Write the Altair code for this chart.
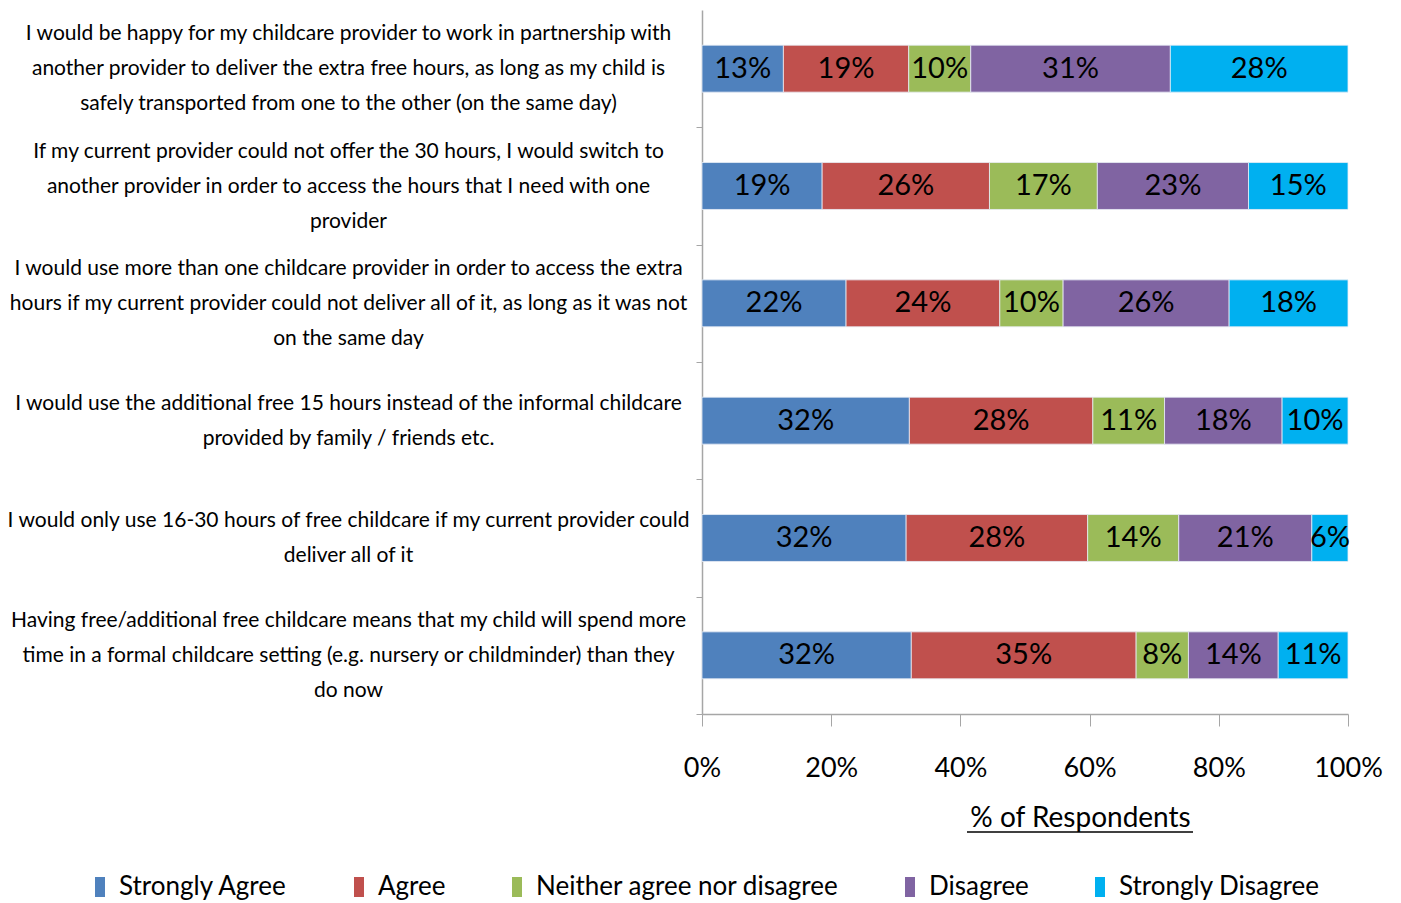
import altair as alt
import pandas as pd

FONT = "Lato"

questions = [
    "I would be happy for my childcare provider to work in partnership with|another provider to deliver the extra free hours, as long as my child is|safely transported from one to the other (on the same day)",
    "If my current provider could not offer the 30 hours, I would switch to|another provider in order to access the hours that I need with one|provider",
    "I would use more than one childcare provider in order to access the extra|hours if my current provider could not deliver all of it, as long as it was not|on the same day",
    "I would use the additional free 15 hours instead of the informal childcare|provided by family / friends etc.",
    "I would only use 16-30 hours of free childcare if my current provider could|deliver all of it",
    "Having free/additional free childcare means that my child will spend more|time in a formal childcare setting (e.g. nursery or childminder) than they|do now",
]

series = ["Strongly Agree", "Agree", "Neither agree nor disagree", "Disagree", "Strongly Disagree"]
colors = ["#4F81BD", "#C0504D", "#9BBB59", "#8064A2", "#00B0F0"]

strongly_agree = [12.6, 18.6, 22.3, 32.1, 31.6, 32.4]
agree = [19.4, 25.9, 23.8, 28.4, 28.1, 34.8]
neither = [9.6, 16.7, 9.8, 11.1, 14.1, 8.1]
disagree = [30.9, 23.4, 25.7, 18.2, 20.6, 13.9]
strongly_disagree = [27.5, 15.4, 18.4, 10.2, 5.6, 10.8]

values = [strongly_agree, agree, neither, disagree, strongly_disagree]
rows = []
for si, (s, vals) in enumerate(zip(series, values)):
    for q, v in zip(questions, vals):
        rows.append({"question": q, "series": s, "order": si, "value": v})
df = pd.DataFrame(rows)

base = (
    alt.Chart(df)
    .transform_calculate(frac="datum.value/100")
    .transform_stack(stack="frac", groupby=["question"], as_=["x0", "x1"],
                     sort=[alt.SortField("order", order="ascending")])
    .transform_calculate(mid="(datum.x0+datum.x1)/2")
)

HALF_STEP = 704 / 6 / 2
LINE_H = 35

yscale = alt.Scale(paddingInner=0.6, paddingOuter=0.3)

yaxis = alt.Axis(labelExpr="split(datum.label, '|')", labelAlign="center",
                 labelBaseline="middle", labelPadding=348, labelFont=FONT,
                 labelFontSize=21, labelLineHeight=LINE_H, labelColor="#000000",
                 labelLimit=800, tickOffset=HALF_STEP, tickSize=6,
                 labelOffset={"expr": f"-{HALF_STEP} - (length(split(datum.label, '|')) - 1) * {LINE_H / 2}"},
                 tickColor="#A6A6A6", domainColor="#A6A6A6", domainWidth=1.5,
                 labelOverlap=False, grid=False)

bars = base.mark_bar(stroke="#E8EEF6", strokeWidth=0.8).encode(
    y=alt.Y("question:N", sort=questions, scale=yscale, title=None, axis=yaxis),
    x=alt.X("x0:Q", scale=alt.Scale(domain=[0, 1]),
            axis=alt.Axis(values=[0, 0.2, 0.4, 0.6, 0.8, 1.0], format=".0%", grid=False,
                          labelFont=FONT, labelFontSize=27, labelColor="#000000",
                          labelPadding=29, tickSize=12, tickColor="#A6A6A6",
                          domainColor="#A6A6A6", domainWidth=1.5,
                          title="% of Respondents", titleFont=FONT, titleFontSize=28,
                          titleFontWeight="normal", titleColor="#000000",
                          titleX=378, titleY=112, titleAlign="center",
                          titleBaseline="alphabetic", labelFlush=False)),
    x2="x1:Q",
    color=alt.Color("series:N", scale=alt.Scale(domain=series, range=colors),
                    legend=alt.Legend(title=None, orient="none", direction="horizontal",
                                      legendX=-615, legendY=864,
                                      symbolType="M-0.5,-1H0.5V1H-0.5Z", symbolSize=400,
                                      symbolStrokeWidth=0, labelFont=FONT, labelFontSize=26,
                                      labelColor="#000000", labelOffset=6, columnPadding=58,
                                      labelLimit=600)),
)

labels = base.mark_text(font=FONT, fontSize=29, color="#000000", baseline="middle").encode(
    y=alt.Y("question:N", sort=questions, scale=yscale),
    x=alt.X("mid:Q"),
    text=alt.Text("frac:Q", format=".0%"),
)

underline = alt.Chart(pd.DataFrame({"k": [0]})).mark_rule(color="#000000", strokeWidth=1.5).encode(
    x=alt.value(265), x2=alt.value(491), y=alt.value(822)
)

chart = (
    alt.layer(bars, labels, underline)
    .properties(width=646, height=704, autosize=alt.AutoSizeParams(type="none"),
                padding={"left": 694, "top": 2, "right": 45, "bottom": 186},
                background="#FFFFFF")
    .configure_view(strokeWidth=0)
)

chart.save("out.html", embed_options={"renderer": "svg", "actions": False})
